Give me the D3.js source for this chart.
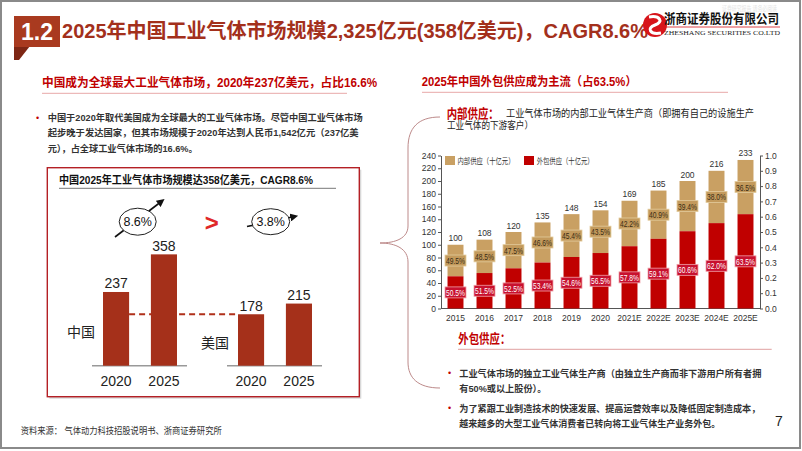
<!DOCTYPE html>
<html><head><meta charset="utf-8">
<script src="https://cdn.jsdelivr.net/npm/d3@7"></script>
<style>html,body{margin:0;padding:0;background:#fff;}svg{display:block;}</style>
</head><body>
<svg id="c" width="802" height="451"></svg>
<script>
// ---------- DATA ----------
const years = ['2015','2016','2017','2018','2019','2020','2021E','2022E','2023E','2024E','2025E'];
const totals = [100,108,120,135,148,154,169,185,200,216,233];
const outShare = [50.5,51.5,52.5,53.4,54.6,56.5,57.8,59.1,60.6,62.0,63.5];
const inShare = [49.5,48.5,47.5,46.6,45.4,43.5,42.2,40.9,39.4,38.0,36.5];
const leftTicks = [0,20,40,60,80,100,120,140,160,180,200,220,240];
const rightTicks = [0,0.1,0.2,0.3,0.4,0.5,0.6,0.7,0.8,0.9,1.0];
const legendLabels = ['内部供应（十亿元）','外包供应（十亿元）'];

const cmpYears = ['2020','2025'];
const chinaVals = [237,358];
const usVals = [178,215];
const cagrChina = '8.6%';
const cagrUS = '3.8%';

// ---------- SETUP ----------
const svg = d3.select('#c');
const FF = "'Liberation Sans', Arial, 'Noto Sans CJK SC', sans-serif";
const RED = '#C00000', TAN = '#C9A063', RUST = '#A5301A';

function txt(x, y, s, o = {}) {
  const t = svg.append('text').attr('x', x).attr('y', y).text(s)
    .attr('font-family', o.ff || FF).attr('font-size', o.size || 10)
    .attr('fill', o.color || '#222').attr('font-weight', o.weight || 'normal')
    .attr('text-anchor', o.anchor || 'start').attr('dominant-baseline', o.base || 'central');
  if (o.w) t.attr('textLength', o.w).attr('lengthAdjust', 'spacingAndGlyphs');
  return t;
}

// slide frame
svg.append('rect').attr('x', 1).attr('y', 1).attr('width', 799).attr('height', 447)
  .attr('fill', 'none').attr('stroke', '#8a8a8a').attr('stroke-width', 2);

// ---------- TITLE ----------
svg.append('polygon').attr('points', '14,46 30,46 19,60 14,60').attr('fill', '#7E2614');
svg.append('rect').attr('x', 14).attr('y', 16).attr('width', 46).attr('height', 31).attr('fill', '#A93A1F');
txt(37, 32, '1.2', {size: 23, weight: 'bold', color: '#fff', anchor: 'middle'});
txt(62, 31, '2025年中国工业气体市场规模2,325亿元(358亿美元)，CAGR8.6%', {size: 20, weight: 'bold', color: '#A3301C', w: 586});

// logo
svg.append('circle').attr('cx', 655).attr('cy', 25).attr('r', 12).attr('fill', '#D7141A');
svg.append('path').attr('d', 'M649,17 C660,15 664,22 655,25 C646,28 650,35 661,33')
  .attr('fill', 'none').attr('stroke', '#fff').attr('stroke-width', 3);
txt(664, 18, '浙商证券股份有限公司', {size: 13, weight: 'bold', color: '#111', w: 115});
svg.append('line').attr('x1', 664).attr('x2', 780).attr('y1', 27).attr('y2', 27).attr('stroke', '#D7141A').attr('stroke-width', 0.8);
txt(664, 33, 'ZHESHANG SECURITIES CO.LTD', {size: 7, color: '#222', ff: "'Liberation Serif', serif", w: 116});
txt(722, 8, '证券研究报告   请务必阅读', {size: 7, color: '#e4e4e4', w: 55});

// ---------- LEFT SECTION ----------
txt(42, 82.5, '中国成为全球最大工业气体市场，2020年237亿美元，占比16.6%', {size: 12, weight: 'bold', color: RED, w: 335});
svg.append('line').attr('x1', 42).attr('x2', 347).attr('y1', 93.3).attr('y2', 93.3).attr('stroke', '#E8A8A8').attr('stroke-width', 1);

txt(36, 117.7, '•', {size: 9, color: RED});
txt(47.7, 117.7, '中国于2020年取代美国成为全球最大的工业气体市场。尽管中国工业气体市场', {size: 9.5, color: '#333', weight: 600, w: 315});
txt(47.7, 132.7, '起步晚于发达国家，但其市场规模于2020年达到人民币1,542亿元（237亿美', {size: 9.5, color: '#333', weight: 600, w: 311});
txt(47.7, 148.3, '元），占全球工业气体市场的16.6%。', {size: 9.5, color: '#333', weight: 600, w: 150});

// box
svg.append('rect').attr('x', 49.3).attr('y', 169.7).attr('width', 312).attr('height', 229).attr('fill', '#d8d8d8');
svg.append('rect').attr('x', 47.3).attr('y', 167.7).attr('width', 312).attr('height', 229)
  .attr('fill', '#fff').attr('stroke', '#B42025').attr('stroke-width', 1.4);
txt(59, 180, '中国2025年工业气体市场规模达358亿美元，CAGR8.6%', {size: 11, weight: 'bold', color: '#111', w: 254});
svg.append('line').attr('x1', 59).attr('x2', 336).attr('y1', 188.3).attr('y2', 188.3).attr('stroke', '#777').attr('stroke-width', 1);

// arrow marker
const defs = svg.append('defs');
defs.append('marker').attr('id', 'ah').attr('viewBox', '0 0 10 10').attr('refX', 6).attr('refY', 5)
  .attr('markerWidth', 5).attr('markerHeight', 5).attr('orient', 'auto')
  .append('path').attr('d', 'M0,0 L10,5 L0,10 z').attr('fill', '#111');

svg.append('line').attr('x1', 115).attr('y1', 237).attr('x2', 162).attr('y2', 201)
  .attr('stroke', '#111').attr('stroke-width', 1.6).attr('marker-end', 'url(#ah)');
svg.append('ellipse').attr('cx', 137.7).attr('cy', 221.7).attr('rx', 18.5).attr('ry', 13.5)
  .attr('fill', '#fff').attr('stroke', '#222').attr('stroke-width', 1);
txt(137.7, 222, cagrChina, {size: 12.5, color: '#111', anchor: 'middle'});

txt(211.7, 222, '>', {size: 24, weight: 'bold', color: '#E02828', anchor: 'middle'});

svg.append('line').attr('x1', 247).attr('y1', 226.5).attr('x2', 295).attr('y2', 216.5)
  .attr('stroke', '#111').attr('stroke-width', 1.6).attr('marker-end', 'url(#ah)');
svg.append('ellipse').attr('cx', 270.7).attr('cy', 221.7).attr('rx', 19).attr('ry', 13)
  .attr('fill', '#fff').attr('stroke', '#222').attr('stroke-width', 1);
txt(270.7, 222, cagrUS, {size: 12.5, color: '#111', anchor: 'middle'});

// comparison bars
const base = 365.7;
const xC = d3.scaleBand().domain(cmpYears).range([92, 188]).paddingInner(0.455).paddingOuter(0.23);
const xU = d3.scaleBand().domain(cmpYears).range([227, 323]).paddingInner(0.455).paddingOuter(0.23);
const yC = d3.scaleLinear().domain([0, 400]).range([base, base - 124.4]);
const yU = d3.scaleLinear().domain([0, 400]).range([base, base - 115.6]);

// dashed connector at US 2020 level
svg.append('line').attr('x1', xC('2020') + xC.bandwidth()).attr('x2', xU('2020'))
  .attr('y1', yU(usVals[0])).attr('y2', yU(usVals[0]))
  .attr('stroke', '#B0301A').attr('stroke-width', 2).attr('stroke-dasharray', '6,4');

[[xC, yC, chinaVals], [xU, yU, usVals]].forEach(([xs, ys, vals]) => {
  svg.append('line').attr('x1', xs.range()[0]).attr('x2', xs.range()[1] - 1).attr('y1', base).attr('y2', base)
    .attr('stroke', '#999').attr('stroke-width', 1.5);
  const g = svg.append('g');
  g.selectAll('rect').data(cmpYears).join('rect')
    .attr('x', d => xs(d)).attr('width', xs.bandwidth())
    .attr('y', (d, i) => ys(vals[i])).attr('height', (d, i) => base - ys(vals[i]))
    .attr('fill', RUST);
  cmpYears.forEach((d, i) => {
    txt(xs(d) + xs.bandwidth() / 2, ys(vals[i]) - 8.5, String(vals[i]), {size: 14, anchor: 'middle', color: '#222'});
    txt(xs(d) + xs.bandwidth() / 2, 381, d, {size: 14, anchor: 'middle', color: '#222'});
  });
});
txt(81, 332, '中国', {size: 14, anchor: 'middle', color: '#222'});
txt(215, 343, '美国', {size: 14, anchor: 'middle', color: '#222'});

txt(20.7, 430, '资料来源：  气体动力科技招股说明书、浙商证券研究所', {size: 9.5, color: '#333', w: 201});

// brace
svg.append('path')
  .attr('d', 'M440,117 C418,117 408,128 408,148 L408,226 C408,238 396,243 380,243 C396,243 408,249 408,262 L408,362 C408,378 418,388 440,388')
  .attr('fill', 'none').attr('stroke', '#BD8A8A').attr('stroke-width', 1);

// ---------- RIGHT SECTION ----------
txt(421.7, 82, '2025年中国外包供应成为主流（占63.5%）', {size: 12, weight: 'bold', color: RED, w: 215});
svg.append('line').attr('x1', 422).attr('x2', 728).attr('y1', 92.3).attr('y2', 92.3).attr('stroke', '#E8A8A8').attr('stroke-width', 1);

txt(446.7, 113.3, '内部供应：', {size: 13, weight: 'bold', color: RED, w: 52});
txt(506, 113.5, '工业气体市场的内部工业气体生产商（即拥有自己的设施生产', {size: 10, color: '#222', w: 248});
txt(447, 125.5, '工业气体的下游客户）', {size: 10, color: '#222', w: 86});

// stacked chart
const x = d3.scaleBand().domain(years).range([441, 760]).paddingInner(0.45).paddingOuter(0.225);
const y = d3.scaleLinear().domain([0, 240]).range([308.5, 155.5]);
const yR = d3.scaleLinear().domain([0, 1]).range([308.5, 155.5]);

const axL = svg.append('g').attr('transform', 'translate(441,0)')
  .call(d3.axisLeft(y).tickValues(leftTicks).tickSize(3).tickPadding(2).tickSizeOuter(0));
const axR = svg.append('g').attr('transform', 'translate(760,0)')
  .call(d3.axisRight(yR).tickValues(rightTicks).tickFormat(d3.format('.1f')).tickSize(3).tickPadding(2).tickSizeOuter(0));
const axB = svg.append('g').attr('transform', 'translate(0,308.5)')
  .call(d3.axisBottom(x).tickSize(0).tickPadding(6).tickSizeOuter(0));
[axL, axR, axB].forEach(a => {
  a.selectAll('path,line').attr('stroke', '#555');
  a.selectAll('text').attr('font-family', FF).attr('font-size', 8.5).attr('fill', '#333');
});
axB.select('.domain').attr('d', 'M441,0H760');

const rows = years.map((yr, i) => ({yr, tot: totals[i], out: totals[i] * outShare[i] / 100, os: outShare[i], is: inShare[i]}));
const bars = svg.append('g');
bars.selectAll('rect.in').data(rows).join('rect').attr('class', 'in')
  .attr('x', d => x(d.yr)).attr('width', x.bandwidth())
  .attr('y', d => y(d.tot)).attr('height', d => y(d.out) - y(d.tot)).attr('fill', TAN);
bars.selectAll('rect.out').data(rows).join('rect').attr('class', 'out')
  .attr('x', d => x(d.yr)).attr('width', x.bandwidth())
  .attr('y', d => y(d.out)).attr('height', d => y(0) - y(d.out)).attr('fill', RED);

rows.forEach(d => {
  const cx = x(d.yr) + x.bandwidth() / 2;
  txt(cx, y(d.tot) - 6.5, String(d.tot), {size: 8.5, anchor: 'middle', color: '#333'});
  const yIn = (y(d.tot) + y(d.out)) / 2, yOut = (y(d.out) + y(0)) / 2;
  svg.append('rect').attr('x', cx - 10.5).attr('y', yIn - 5.5).attr('width', 21).attr('height', 11)
    .attr('fill', '#C39A5C').attr('stroke', '#E3CC9E').attr('stroke-width', 0.8);
  txt(cx, yIn + 0.5, d.is.toFixed(1) + '%', {size: 8.5, anchor: 'middle', color: '#3a2c14', w: 19});
  svg.append('rect').attr('x', cx - 10.5).attr('y', yOut - 5.5).attr('width', 21).attr('height', 11)
    .attr('fill', '#C8102E').attr('stroke', '#F0A0A8').attr('stroke-width', 0.8);
  txt(cx, yOut + 0.5, d.os.toFixed(1) + '%', {size: 8.5, anchor: 'middle', color: '#fff', w: 19});
});

// legend
svg.append('rect').attr('x', 445).attr('y', 156).attr('width', 10).attr('height', 9).attr('fill', TAN);
txt(457.5, 160.8, legendLabels[0], {size: 8.5, color: '#333', w: 57});
svg.append('rect').attr('x', 524).attr('y', 156).attr('width', 10).attr('height', 9).attr('fill', RED);
txt(536.7, 160.8, legendLabels[1], {size: 8.5, color: '#333', w: 57});

// outsourced supply text
txt(458.3, 338.3, '外包供应：', {size: 13, weight: 'bold', color: RED, w: 52});
svg.append('line').attr('x1', 458).attr('x2', 771.7).attr('y1', 349.3).attr('y2', 349.3).attr('stroke', '#E0A0A0').attr('stroke-width', 1);
txt(448, 373.3, '•', {size: 9, color: RED});
txt(459.3, 373.3, '工业气体市场的独立工业气体生产商（由独立生产商而非下游用户所有者拥', {size: 9.5, color: '#333', weight: 600, w: 302});
txt(459.3, 388.3, '有50%或以上股份）。', {size: 9.5, color: '#333', weight: 600, w: 87});
txt(448, 408.3, '•', {size: 9, color: RED});
txt(459.3, 408.3, '为了紧跟工业制造技术的快速发展、提高运营效率以及降低固定制造成本，', {size: 9.5, color: '#333', weight: 600, w: 301});
txt(459.3, 423.3, '越来越多的大型工业气体消费者已转向将工业气体生产业务外包。', {size: 9.5, color: '#333', weight: 600, w: 261});
txt(779, 421, '7', {size: 14, color: '#222', anchor: 'middle'});
</script>
</body></html>
